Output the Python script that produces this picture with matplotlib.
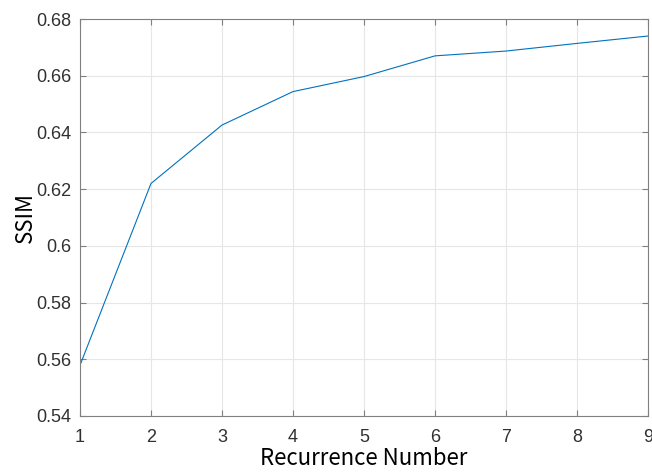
import matplotlib.pyplot as plt

# recurrence number vs SSIM
recurrence = [1, 2, 3, 4, 5, 6, 7, 8, 9]
ssim = [0.5579, 0.6220, 0.6426, 0.6544, 0.6597, 0.6670, 0.6687, 0.6714, 0.6740]

x_ticks = [1, 2, 3, 4, 5, 6, 7, 8, 9]
y_ticks = [0.54, 0.56, 0.58, 0.6, 0.62, 0.64, 0.66, 0.68]
y_tick_labels = ["0.54", "0.56", "0.58", "0.6", "0.62", "0.64", "0.66", "0.68"]

fig = plt.figure(figsize=(6.52, 4.72), dpi=100)
ax = fig.add_axes([80 / 652, 1 - 416 / 472, 568 / 652, 397 / 472])

ax.plot(recurrence, ssim, color="#0072BD", linewidth=0.8)

ax.set_xlim(1, 9)
ax.set_ylim(0.54, 0.68)
ax.set_xticks(x_ticks)
ax.set_yticks(y_ticks)
ax.set_yticklabels(y_tick_labels)

# matlab-ish look: light grid, ticks inside on all sides
ax.grid(True, color="#e6e6e6", linewidth=0.8)
ax.set_axisbelow(True)
ax.tick_params(direction="in", top=True, right=True, length=4, width=0.8,
               colors="#808080", labelcolor="#303030", labelsize=13,
               labelfontfamily="Liberation Sans")
ax.tick_params(axis="x", pad=9)
ax.tick_params(axis="y", pad=6)
for s in ax.spines.values():
    s.set_color("#808080")
    s.set_linewidth(0.8)

ax.set_xlabel("Recurrence Number", fontsize=16, family="Noto Sans CJK SC", labelpad=1)
ax.set_ylabel("SSIM", fontsize=16, family="Noto Sans CJK SC", labelpad=0)

plt.savefig("out.png", dpi=100)
plt.close()
